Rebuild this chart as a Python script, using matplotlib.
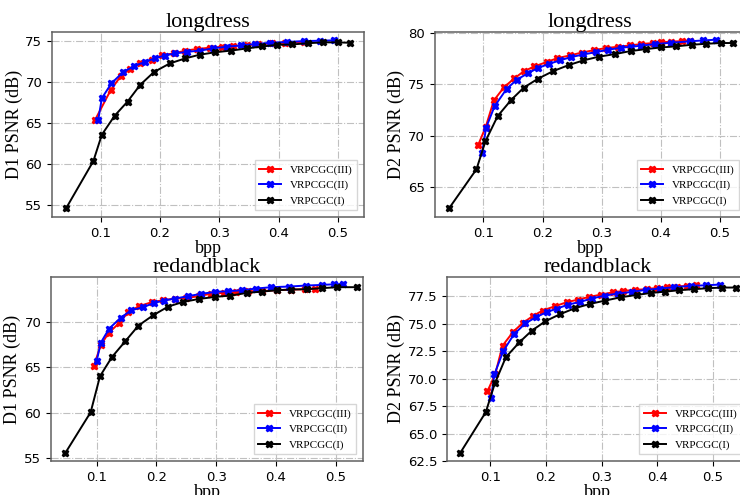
import matplotlib
matplotlib.use("Agg")
import matplotlib.pyplot as plt
from matplotlib.ticker import FormatStrFormatter

# longdress, D1
ld_d1_bpp_3 = [0.0905, 0.117, 0.134, 0.150, 0.167, 0.187, 0.204, 0.223, 0.243, 0.263, 0.284, 0.305,
               0.323, 0.347, 0.366, 0.389, 0.411, 0.443]
ld_d1_psnr_3 = [65.35, 69.0, 70.7, 71.6, 72.3, 72.7, 73.25, 73.45, 73.8, 74.0, 74.15, 74.27,
                74.35, 74.47, 74.55, 74.68, 74.75, 74.88]
ld_d1_bpp_2 = [0.096, 0.102, 0.118, 0.138, 0.156, 0.174, 0.191, 0.208, 0.225, 0.246, 0.268, 0.289,
               0.313, 0.336, 0.361, 0.386, 0.415, 0.442, 0.470, 0.494]
ld_d1_psnr_2 = [65.4, 68.0, 69.8, 71.2, 71.9, 72.4, 72.85, 73.2, 73.45, 73.65, 73.8, 74.07,
                74.27, 74.43, 74.6, 74.75, 74.85, 74.96, 75.0, 75.05]
ld_d1_bpp_1 = [0.0417, 0.0877, 0.102, 0.1236, 0.1454, 0.1668, 0.190, 0.2167, 0.2425, 0.267, 0.2936,
               0.320, 0.347, 0.3727, 0.397, 0.423, 0.450, 0.4748, 0.4994, 0.520]
ld_d1_psnr_1 = [54.6, 60.35, 63.56, 65.87, 67.6, 69.64, 71.2, 72.24, 72.85, 73.3, 73.6,
                73.8, 74.07, 74.3, 74.5, 74.55, 74.7, 74.8, 74.8, 74.75]

# longdress, D2
ld_d2_bpp_3 = [0.091, 0.104, 0.1175, 0.135, 0.152, 0.168, 0.186, 0.207, 0.225, 0.246, 0.266, 0.287,
               0.307, 0.328, 0.348, 0.367, 0.387, 0.401, 0.418, 0.435, 0.450]
ld_d2_psnr_3 = [69.1, 70.9, 73.44, 74.74, 75.58, 76.27, 76.75, 77.18, 77.56, 77.82, 78.1, 78.34,
                78.54, 78.67, 78.8, 78.93, 79.03, 79.1, 79.16, 79.22, 79.25]
ld_d2_bpp_2 = [0.0977, 0.1045, 0.119, 0.139, 0.156, 0.1756, 0.192, 0.210, 0.229, 0.248, 0.269, 0.291,
               0.311, 0.332, 0.350, 0.367, 0.390, 0.418, 0.449, 0.472, 0.494]
ld_d2_psnr_2 = [68.3, 70.8, 72.9, 74.55, 75.45, 76.1, 76.6, 76.98, 77.34, 77.66, 77.92, 78.15,
                78.38, 78.57, 78.67, 78.77, 78.93, 79.06, 79.19, 79.29, 79.35]
ld_d2_bpp_1 = [0.0419, 0.0882, 0.1034, 0.124, 0.147, 0.168, 0.192, 0.218, 0.244, 0.269, 0.295,
               0.322, 0.349, 0.375, 0.400, 0.425, 0.452, 0.477, 0.502, 0.522]
ld_d2_psnr_1 = [62.95, 66.75, 69.48, 71.92, 73.5, 74.68, 75.55, 76.3, 76.88, 77.34, 77.7,
                77.95, 78.25, 78.44, 78.6, 78.7, 78.86, 78.96, 79.03, 79.03]

# redandblack, D1
rb_d1_bpp_3 = [0.095, 0.107, 0.120, 0.138, 0.153, 0.171, 0.192, 0.211, 0.231, 0.250, 0.271, 0.292,
               0.313, 0.333, 0.3535, 0.376, 0.401, 0.426, 0.448, 0.465]
rb_d1_psnr_3 = [65.09, 67.4, 68.75, 69.85, 71.06, 71.69, 72.13, 72.35, 72.53, 72.6, 72.79, 73.08,
                73.15, 73.23, 73.34, 73.34, 73.45, 73.52, 73.55, 73.6]
rb_d1_bpp_2 = [0.100, 0.1067, 0.121, 0.140, 0.158, 0.178, 0.196, 0.2125, 0.231, 0.253, 0.274, 0.298,
               0.320, 0.344, 0.367, 0.392, 0.422, 0.450, 0.477, 0.497, 0.513]
rb_d1_psnr_2 = [65.64, 67.65, 69.23, 70.4, 71.25, 71.58, 72.05, 72.31, 72.53, 72.79, 73.04, 73.26,
                73.34, 73.45, 73.63, 73.78, 73.85, 73.96, 74.03, 74.1, 74.14]
rb_d1_bpp_1 = [0.0476, 0.090, 0.1056, 0.1256, 0.148, 0.170, 0.1947, 0.2198, 0.2448, 0.2716, 0.2978,
               0.324, 0.3518, 0.3774, 0.4025, 0.4259, 0.452, 0.4766, 0.503, 0.536]
rb_d1_psnr_1 = [55.55, 60.03, 63.99, 66.1, 67.84, 69.56, 70.7, 71.65, 72.16, 72.49, 72.71,
                72.86, 73.15, 73.3, 73.45, 73.52, 73.56, 73.67, 73.78, 73.78]

# redandblack, D2
rb_d2_bpp_3 = [0.0946, 0.1084, 0.1217, 0.1409, 0.1577, 0.1758, 0.1938, 0.2161, 0.237, 0.258, 0.278,
               0.299, 0.320, 0.339, 0.360, 0.381, 0.3995, 0.4176, 0.4356, 0.4537, 0.469]
rb_d2_psnr_3 = [68.86, 70.38, 73.0, 74.26, 75.05, 75.68, 76.2, 76.59, 76.95, 77.2, 77.44,
                77.65, 77.86, 77.98, 78.08, 78.14, 78.26, 78.32, 78.38, 78.44, 78.5]
rb_d2_bpp_2 = [0.101, 0.107, 0.123, 0.142, 0.1626, 0.1818, 0.201, 0.220, 0.240, 0.261, 0.282, 0.306,
               0.3286, 0.354, 0.380, 0.4056, 0.430, 0.460, 0.4886, 0.5126]
rb_d2_psnr_2 = [68.2, 70.38, 72.5, 74.02, 75.02, 75.59, 76.05, 76.38, 76.74, 76.98, 77.29, 77.56,
                77.74, 77.89, 78.08, 78.2, 78.32, 78.44, 78.5, 78.56]
rb_d2_bpp_1 = [0.0459, 0.0916, 0.1078, 0.1277, 0.1517, 0.174, 0.199, 0.225, 0.252, 0.279, 0.306,
               0.3346, 0.3635, 0.389, 0.4146, 0.440, 0.4657, 0.4916, 0.5169, 0.541]
rb_d2_psnr_1 = [63.26, 66.95, 69.56, 71.95, 73.29, 74.35, 75.23, 75.86, 76.41, 76.8, 77.1,
                77.41, 77.62, 77.8, 77.92, 78.05, 78.14, 78.23, 78.29, 78.29]

labels = ["VRPCGC(III)", "VRPCGC(II)", "VRPCGC(I)"]
colors = ["red", "blue", "black"]

SERIF = "Liberation Serif"

fig = plt.figure(figsize=(7.4, 4.95), dpi=100)

panels = [
    # rect, title, ylabel, series, xlim, ylim, yticks
    ([0.0703, 0.5616, 0.4216, 0.3737], "longdress", "D1 PSNR (dB)",
     [(ld_d1_bpp_3, ld_d1_psnr_3), (ld_d1_bpp_2, ld_d1_psnr_2), (ld_d1_bpp_1, ld_d1_psnr_1)],
     (0.018, 0.544), (53.54, 76.06), [55, 60, 65, 70, 75]),
    ([0.5878, 0.5616, 0.4203, 0.3737], "longdress", "D2 PSNR (dB)",
     [(ld_d2_bpp_3, ld_d2_psnr_3), (ld_d2_bpp_2, ld_d2_psnr_2), (ld_d2_bpp_1, ld_d2_psnr_1)],
     (0.018, 0.544), (62.1, 80.1), [65, 70, 75, 80]),
    ([0.0689, 0.0687, 0.4216, 0.3717], "redandblack", "D1 PSNR (dB)",
     [(rb_d1_bpp_3, rb_d1_psnr_3), (rb_d1_bpp_2, rb_d1_psnr_2), (rb_d1_bpp_1, rb_d1_psnr_1)],
     (0.0236, 0.5457), (54.67, 74.9), [55, 60, 65, 70]),
    ([0.604, 0.0687, 0.408, 0.3717], "redandblack", "D2 PSNR (dB)",
     [(rb_d2_bpp_3, rb_d2_psnr_3), (rb_d2_bpp_2, rb_d2_psnr_2), (rb_d2_bpp_1, rb_d2_psnr_1)],
     (0.0217, 0.565), (62.5, 79.25), [62.5, 65.0, 67.5, 70.0, 72.5, 75.0, 77.5]),
]

for rect, title, ylabel, series, xlim, ylim, yticks in panels:
    ax = fig.add_axes(rect)
    for (x, y), lab, c in zip(series, labels, colors):
        ax.plot(x, y, color=c, marker="X", markersize=5, linewidth=1.4, label=lab)
    ax.set_xlim(*xlim)
    ax.set_ylim(*ylim)
    ax.set_xticks([0.1, 0.2, 0.3, 0.4, 0.5])
    ax.set_yticks(yticks)
    if ylabel.startswith("D2") and title == "redandblack":
        ax.yaxis.set_major_formatter(FormatStrFormatter("%.1f"))
    ax.tick_params(labelsize=9.5)
    ax.grid(True, linestyle="-.", color="#c0c0c0", linewidth=0.8)
    for s in ax.spines.values():
        s.set_color("#606060")
        s.set_linewidth(1.1)
    ax.set_title(title, fontsize=16, family=SERIF, pad=3)
    ax.set_xlabel("bpp", fontsize=13, family=SERIF, labelpad=0)
    ax.set_ylabel(ylabel, fontsize=13, family=SERIF, labelpad=2)
    ax.legend(loc="lower right", prop={"family": SERIF, "size": 8}, fancybox=False,
              handlelength=2, borderaxespad=0.6)

fig.savefig("out.png", dpi=100)
